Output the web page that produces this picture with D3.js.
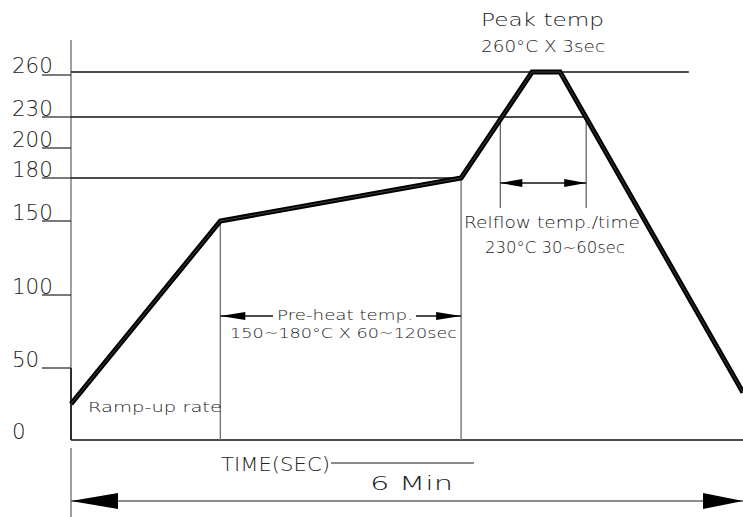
<!DOCTYPE html>
<html>
<head>
<meta charset="utf-8">
<script src="https://cdn.jsdelivr.net/npm/d3@7"></script>
<style>
  html, body { margin: 0; padding: 0; background: #fff; }
  svg { display: block; }
  text { font-family: "DejaVu Sans", "Liberation Sans", Arial, sans-serif; font-weight: 200; fill: #222; }
</style>
</head>
<body>
<svg id="chart" width="743" height="517"></svg>
<script>
// ---------- data ----------
const tempTicks = [0, 50, 100, 150, 180, 200, 230, 260];
const tickLabels = ["0", "50", "100", "150", "180", "200", "230", "260"];
const profileTime = [0, 80, 209, 247, 262, 360];          // seconds
const profileTemp = [25, 150, 180, 260, 260, 33];          // °C
const preheatWindow = [80, 209];                           // seconds
const reflowWindow = [230, 276];                           // seconds
const refLineTemps = [260, 230, 180];
const refLineEnds = [331, 276, 209];                       // seconds
const totalTime = 360;                                     // 6 min
const texts = {
  peak: "Peak temp",
  peakSpec: "260°C X 3sec",
  reflow: "Relflow temp./time",
  reflowSpec: "230°C 30~60sec",
  preheat: "Pre-heat temp.",
  preheatSpec: "150~180°C X 60~120sec",
  ramp: "Ramp-up rate",
  time: "TIME(SEC)",
  total: "6 Min"
};

// ---------- scales ----------
const svg = d3.select("#chart");
const x = d3.scaleLinear().domain([0, totalTime]).range([71, 743]);
const y = d3.scaleLinear().domain(tempTicks).range([440, 368, 295, 221, 178, 148, 117, 72]);

function arrowHead(tipX, tipY, dir, len, half) {
  const bx = tipX - dir * len;
  return `M${tipX},${tipY}L${bx},${tipY - half}L${bx},${tipY + half}Z`;
}

// ---------- y axis ----------
svg.append("line").attr("x1", x(0)).attr("x2", x(0))
  .attr("y1", 40).attr("y2", y(0)).attr("stroke", "#777").attr("stroke-width", 1.4);
svg.append("line").attr("x1", x(0)).attr("x2", x(0))
  .attr("y1", y(50)).attr("y2", y(0)).attr("stroke", "#111").attr("stroke-width", 1.6);

const tickG = svg.append("g");
tempTicks.forEach((t, i) => {
  const off = t === 260 ? 3 : 0;
  if (t !== 0) {
    tickG.append("line").attr("x1", 42).attr("x2", x(0))
      .attr("y1", y(t) + off).attr("y2", y(t) + off)
      .attr("stroke", "#222").attr("stroke-width", 1.2);
  }
  const lbl = tickLabels[i];
  tickG.append("text").attr("x", 12).attr("y", y(t) - 1 + (t === 260 ? 2 : 0))
    .attr("font-size", 22)
    .attr("textLength", lbl.length * 13.6).attr("lengthAdjust", "spacingAndGlyphs")
    .text(lbl);
});

refLineTemps.forEach((t, i) => {
  svg.append("line").attr("x1", x(0)).attr("x2", x(refLineEnds[i]))
    .attr("y1", y(t)).attr("y2", y(t)).attr("stroke", "#111").attr("stroke-width", 1.3);
});

svg.append("line").attr("x1", x(0)).attr("x2", 743)
  .attr("y1", y(0)).attr("y2", y(0)).attr("stroke", "#111").attr("stroke-width", 1.6);

[preheatWindow[0], preheatWindow[1]].forEach((s, i) => {
  svg.append("line").attr("x1", x(s)).attr("x2", x(s))
    .attr("y1", y(profileTemp[i + 1])).attr("y2", y(0))
    .attr("stroke", "#777").attr("stroke-width", 1.4);
});
reflowWindow.forEach(s => {
  svg.append("line").attr("x1", x(s)).attr("x2", x(s))
    .attr("y1", y(230)).attr("y2", 208)
    .attr("stroke", "#666").attr("stroke-width", 1.3);
});

const rY = 183;
svg.append("line").attr("x1", x(reflowWindow[0])).attr("x2", x(reflowWindow[1]))
  .attr("y1", rY).attr("y2", rY).attr("stroke", "#111").attr("stroke-width", 1.3);
svg.append("path").attr("d", arrowHead(x(reflowWindow[0]), rY, -1, 22, 4)).attr("fill", "#000");
svg.append("path").attr("d", arrowHead(x(reflowWindow[1]), rY, 1, 22, 4)).attr("fill", "#000");

const pY = 316;
svg.append("line").attr("x1", x(preheatWindow[0])).attr("x2", 273)
  .attr("y1", pY).attr("y2", pY).attr("stroke", "#111").attr("stroke-width", 1.3);
svg.append("line").attr("x1", 416).attr("x2", x(preheatWindow[1]))
  .attr("y1", pY).attr("y2", pY).attr("stroke", "#111").attr("stroke-width", 1.3);
svg.append("path").attr("d", arrowHead(x(preheatWindow[0]), pY, -1, 25, 4)).attr("fill", "#000");
svg.append("path").attr("d", arrowHead(x(preheatWindow[1]), pY, 1, 25, 4)).attr("fill", "#000");

// ---------- profile ----------
const pts = profileTime.map((t, i) => [x(t), y(profileTemp[i])]);
const line = d3.line();
svg.append("path").attr("d", line(pts)).attr("fill", "none")
  .attr("stroke", "#000").attr("stroke-width", 5).attr("stroke-linejoin", "miter");
svg.append("path").attr("d", line(pts)).attr("fill", "none")
  .attr("stroke", "#666").attr("stroke-width", 0.6);

// ---------- texts ----------
function addText(str, x0, yb, size, width) {
  svg.append("text").attr("x", x0).attr("y", yb).attr("font-size", size)
    .attr("textLength", width).attr("lengthAdjust", "spacingAndGlyphs").text(str);
}
addText(texts.peak, 481, 26, 18, 123);
addText(texts.peakSpec, 481, 52, 15, 124);
addText(texts.reflow, 464, 228, 15, 176);
addText(texts.reflowSpec, 485, 253, 15, 140);
addText(texts.preheat, 277, 320, 14, 136);
addText(texts.preheatSpec, 230, 338, 14, 227);
addText(texts.ramp, 88, 412, 14, 134);
addText(texts.time, 221, 471, 19, 109);
addText(texts.total, 370, 490, 19, 83);

svg.append("line").attr("x1", 331).attr("x2", 474).attr("y1", 463).attr("y2", 463)
  .attr("stroke", "#666").attr("stroke-width", 1.3);

// ---------- total time arrow ----------
svg.append("line").attr("x1", x(0)).attr("x2", x(0)).attr("y1", 448).attr("y2", 517)
  .attr("stroke", "#777").attr("stroke-width", 1.4);
const bY = 501;
svg.append("line").attr("x1", x(0)).attr("x2", x(totalTime)).attr("y1", bY).attr("y2", bY)
  .attr("stroke", "#666").attr("stroke-width", 1.3);
svg.append("path").attr("d", arrowHead(x(0), bY, -1, 47, 8)).attr("fill", "#000");
svg.append("path").attr("d", arrowHead(x(totalTime), bY, 1, 40, 8)).attr("fill", "#000");
</script>
</body>
</html>
